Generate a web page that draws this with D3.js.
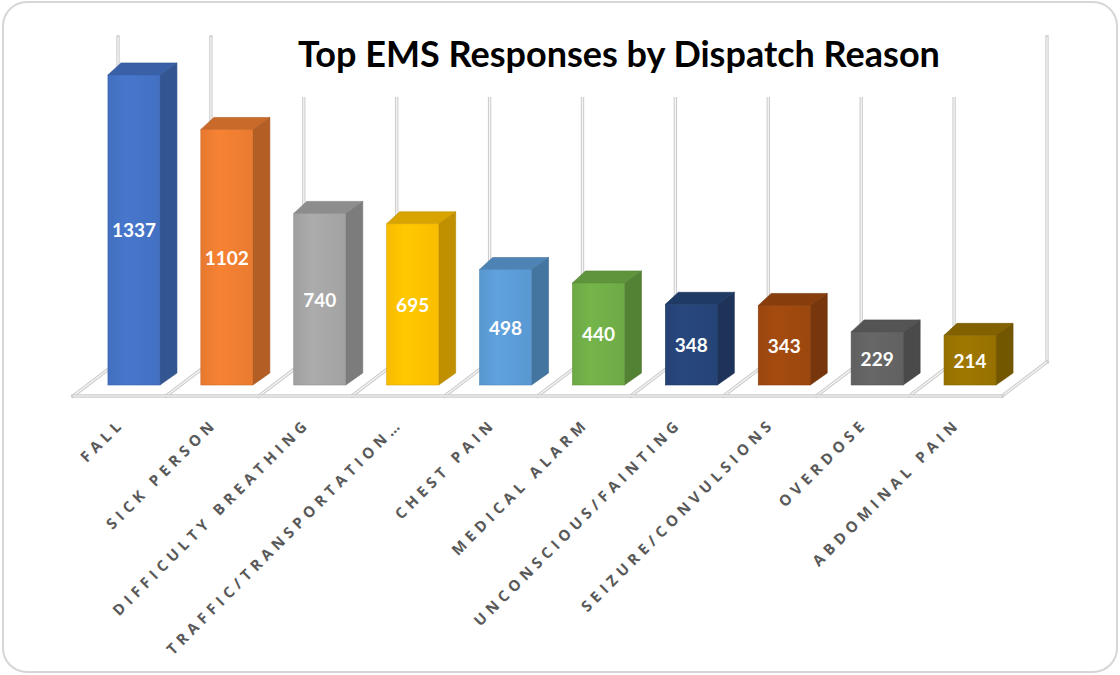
<!DOCTYPE html>
<html>
<head>
<meta charset="utf-8">
<script src="https://cdn.jsdelivr.net/npm/d3@7/dist/d3.min.js"></script>
<style>
  html, body { margin: 0; padding: 0; background: #ffffff; }
  svg { display: block; }
</style>
</head>
<body>
<svg id="chart" width="1120" height="675"></svg>
<script>
// ---- data ----
const categories = ["FALL", "SICK PERSON", "DIFFICULTY BREATHING", "TRAFFIC/TRANSPORTATION\u2026",
  "CHEST PAIN", "MEDICAL ALARM", "UNCONSCIOUS/FAINTING", "SEIZURE/CONVULSIONS", "OVERDOSE", "ABDOMINAL PAIN"];
const values = [1337, 1102, 740, 695, 498, 440, 348, 343, 229, 214];
const title = "Top EMS Responses by Dispatch Reason";

// ---- styling ----
const frontColors = ["#4472C4", "#ED7D31", "#A5A5A5", "#FFC000", "#5B9BD5", "#70AD47", "#264478", "#9E480E", "#636363", "#997300"];

const W = 1120, H = 675;
const svg = d3.select("#chart");
const defs = svg.append("defs");

// outer frame
svg.append("rect").attr("x", 3).attr("y", 2).attr("width", W - 6).attr("height", H - 5)
  .attr("rx", 24).attr("fill", "#fff").attr("stroke", "#d6d6d6").attr("stroke-width", 2);

// geometry
const floorFront = 396, floorDX = 45, floorDY = -34;
const x = d3.scaleBand().domain(categories).range([73, 1002]).paddingInner(0).paddingOuter(0);
const y = d3.scaleLinear().domain([0, 1400]).range([385, 385 - 1400 * 0.2319]);
const barW = x.bandwidth() * 0.56;
const barOffX = 14.5 + (x.bandwidth() - barW) / 2;
const depthX = 17, depthY = -12;

// double-line helper
function dline(g, x1, y1, x2, y2) {
  g.append("line").attr("x1", x1).attr("y1", y1).attr("x2", x2).attr("y2", y2)
    .attr("stroke", "#cdcdcd").attr("stroke-width", 3.4).attr("stroke-linecap", "square");
  g.append("line").attr("x1", x1).attr("y1", y1).attr("x2", x2).attr("y2", y2)
    .attr("stroke", "#f7f7f7").attr("stroke-width", 1.2);
}

const grid = svg.append("g");
const bounds = categories.map(c => x(c)).concat([x(categories[categories.length - 1]) + x.bandwidth()]);
bounds.forEach(bx => dline(grid, bx + floorDX, floorFront + floorDY, bx + floorDX, 37));

// title with white background
svg.append("rect").attr("x", 280).attr("y", 28).attr("width", 712).attr("height", 69).attr("fill", "#fff");
const t = svg.append("text").attr("x", 619).attr("y", 67).attr("text-anchor", "middle")
  .attr("font-family", "Lato, 'Open Sans', sans-serif").attr("font-weight", 700)
  .attr("font-size", 29).attr("fill", "#000").text(title);
const tl = t.node().getComputedTextLength();
t.attr("font-size", 29 * 642 / tl);

// floor
const floor = svg.append("g");
bounds.forEach(bx => dline(floor, bx, floorFront, bx + floorDX, floorFront + floorDY));
dline(floor, bounds[0], floorFront, bounds[bounds.length - 1], floorFront);

// bars
const bars = svg.append("g");
categories.forEach((c, i) => {
  const col = d3.color(frontColors[i]);
  const gid = "g" + i;
  const grad = defs.append("linearGradient").attr("id", gid).attr("x1", 0).attr("x2", 1).attr("y1", 0).attr("y2", 0);
  grad.append("stop").attr("offset", "0%").attr("stop-color", col.darker(0.08));
  grad.append("stop").attr("offset", "35%").attr("stop-color", col.brighter(0.12));
  grad.append("stop").attr("offset", "100%").attr("stop-color", col.darker(0.05));
  const bx = x(c) + barOffX;
  const yt = y(values[i]), yb = y(0);
  const g = bars.append("g");
  g.append("path")
    .attr("d", `M${bx + barW},${yt} L${bx + barW + depthX},${yt + depthY} L${bx + barW + depthX},${yb + depthY} L${bx + barW},${yb} Z`)
    .attr("fill", col.darker(0.8)).attr("stroke", col.darker(1.0)).attr("stroke-width", 0.6);
  g.append("path")
    .attr("d", `M${bx},${yt} L${bx + barW},${yt} L${bx + barW + depthX},${yt + depthY} L${bx + depthX - 4},${yt + depthY} Z`)
    .attr("fill", col.darker(0.45)).attr("stroke", col.darker(0.8)).attr("stroke-width", 0.6);
  g.append("rect").attr("x", bx).attr("y", yt).attr("width", barW).attr("height", yb - yt)
    .attr("fill", `url(#${gid})`).attr("stroke", col.darker(0.4)).attr("stroke-width", 0.6);
  g.append("text").attr("x", bx + barW / 2).attr("y", (yt + yb) / 2)
    .attr("text-anchor", "middle").attr("dominant-baseline", "central")
    .attr("font-family", "Lato, 'Open Sans', sans-serif").attr("font-weight", 700)
    .attr("font-size", 19).attr("fill", "#fff").text(values[i]);
});

// category labels
const ls = 4.8;
const labels = svg.append("g");
categories.forEach(c => {
  const ax = x(c) + x.bandwidth() / 2 + 2.5 + ls * 0.707, ay = 428 - ls * 0.707;
  labels.append("text").attr("transform", `translate(${ax},${ay}) rotate(-45)`)
    .attr("text-anchor", "end")
    .attr("font-family", "'Open Sans', sans-serif").attr("font-weight", 700)
    .attr("font-size", 15).attr("letter-spacing", ls).attr("fill", "#595959").text(c);
});
</script>
</body>
</html>
